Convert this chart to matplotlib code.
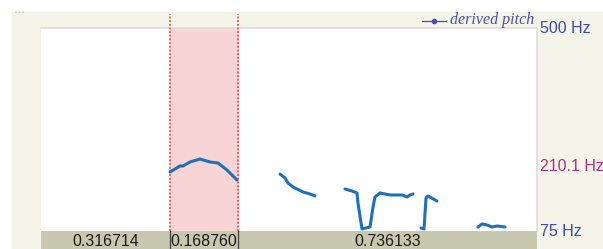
import matplotlib.pyplot as plt
from matplotlib.patches import Rectangle

# interval durations (s) shown in the tier below the pitch track
durations = [0.316714, 0.168760, 0.736133]
duration_labels = ["0.316714", "0.168760", "0.736133"]

# pitch axis
f_min = 75
f_max = 500
f_mid = 210.1

# derived pitch, one list per voiced stretch (time s, Hz)
seg1_t = [0.3177, 0.3423, 0.3497, 0.3670, 0.3916, 0.4162, 0.4359, 0.4581, 0.4827]
seg1_f = [198.5, 211.1, 211.1, 219.5, 225.7, 219.5, 217.4, 202.7, 181.8]
seg2_t = [0.5886, 0.6010, 0.6083, 0.6207, 0.6453, 0.6625, 0.6748]
seg2_f = [194.3, 186.0, 175.5, 167.1, 156.7, 152.5, 148.3]
seg3_t = [0.7487, 0.7660, 0.7783, 0.7807, 0.7906, 0.8103, 0.8177, 0.8226,
          0.8349, 0.8596, 0.8891, 0.9014, 0.9088, 0.9162]
seg3_f = [162.9, 158.7, 154.6, 133.6, 79.2, 83.4, 125.2, 146.2,
          154.6, 150.4, 150.4, 146.2, 150.4, 152.5]
seg4_t = [0.9359, 0.9433, 0.9482, 0.9531, 0.9753]
seg4_f = [81.3, 79.2, 144.1, 148.3, 137.8]
seg5_t = [1.0763, 1.0861, 1.0985, 1.1108, 1.1231, 1.1428]
seg5_f = [83.4, 89.7, 87.6, 83.4, 85.5, 83.4]

segments = [(seg1_t, seg1_f), (seg2_t, seg2_f), (seg3_t, seg3_f),
            (seg4_t, seg4_f), (seg5_t, seg5_f)]

# ---------------------------------------------------------------
plt.rcParams['font.family'] = ['Liberation Sans', 'DejaVu Sans']
W, H = 603, 249
fig = plt.figure(figsize=(W / 100, H / 100), dpi=100)
fig.patch.set_facecolor("white")

# beige frame
fig.patches.append(Rectangle((12 / W, 0), 1 - 12 / W, 1 - 12 / H,
                             transform=fig.transFigure, color="#f4f4e9", zorder=-5))
fig.text(15 / W, 1 - 13 / H, "\u2022 \u2022 \u2022", color="#a9c3cc", fontsize=4,
         va="center", ha="left")

total = sum(durations)
bounds = [0]
for d in durations:
    bounds.append(bounds[-1] + d)

left, right = 41 / W, 537 / W
bottom, top = (H - 231) / H, (H - 28) / H
ax = fig.add_axes([left, bottom, right - left, top - bottom])
ax.set_xlim(0, total)
ax.set_ylim(f_min, f_max)
ax.set_facecolor("white")
for s in ["left", "bottom"]:
    ax.spines[s].set_visible(False)
for s in ["top", "right"]:
    ax.spines[s].set_color("#dcdcdc")
    ax.spines[s].set_linewidth(1.2)
ax.set_xticks([])
ax.set_yticks([])

# highlighted interval
ax.axvspan(bounds[1], bounds[2], color="#f8d4d4", zorder=0)
ext = (231 - 14) / 203
for b in bounds[1:3]:
    ax.axvline(b, ymin=0, ymax=ext, color="#e8393c", linestyle=(0, (1.2, 1.2)),
               linewidth=1.1, clip_on=False, zorder=3)

for t, f in segments:
    ax.plot(t, f, color="#1f6fc0", linewidth=2.2, solid_capstyle="round",
            solid_joinstyle="round", zorder=4)

# right-hand frequency labels
ax.text(1.006, f_max, "500 Hz", transform=ax.get_yaxis_transform(), color="#3e4aa8",
        fontsize=11.5, va="center", ha="left")
ax.text(1.006, f_mid, "210.1 Hz", transform=ax.get_yaxis_transform(), color="#b3307c",
        fontsize=11.5, va="center", ha="left")
ax.text(1.006, f_min, "75 Hz", transform=ax.get_yaxis_transform(), color="#3e4aa8",
        fontsize=11.5, va="center", ha="left")

# legend
fig.text(450 / W, 1 - 20 / H, "derived pitch", family=["Liberation Serif", "DejaVu Serif"],
         style="italic", color="#4a50a8", fontsize=11.5, va="center", ha="left")
fig.add_artist(plt.Line2D([422 / W, 446 / W], [1 - 21 / H, 1 - 21 / H], color="#4a50a8",
                          linewidth=0.9, transform=fig.transFigure))
fig.add_artist(plt.Line2D([434 / W], [1 - 21 / H], color="#4a50a8", marker="o",
                          markersize=3, transform=fig.transFigure))

# interval tier
tier = fig.add_axes([left, 0, right - left, bottom])
tier.set_xlim(0, total)
tier.set_ylim(0, 1)
tier.set_facecolor("#c8c7b0")
tier.set_xticks([])
tier.set_yticks([])
for s in tier.spines.values():
    s.set_visible(False)
for b in bounds[1:3]:
    tier.axvline(b, color="#4a4a40", linewidth=1.0)
for i, lab in enumerate(duration_labels):
    tier.text((bounds[i] + bounds[i + 1]) / 2, 0.4, lab, ha="center", va="center",
              fontsize=11.5, color="#1a1a1a")

fig.savefig("out.png", dpi=100)
